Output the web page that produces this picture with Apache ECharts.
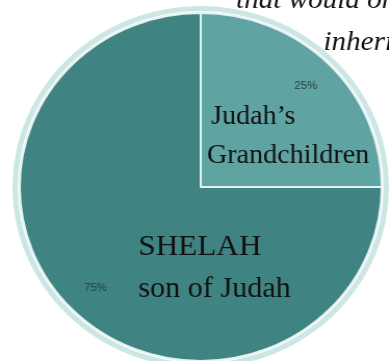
<!DOCTYPE html>
<html>
<head>
<meta charset="utf-8">
<style>
html,body{margin:0;padding:0;background:#fff;overflow:hidden;width:389px;height:361px;}
#c{width:374px;height:361px;transform:scaleX(1.04);transform-origin:0 0;}
</style>
<script src="https://cdn.jsdelivr.net/npm/echarts@6/dist/echarts.min.js"></script>
</head>
<body>
<div id="c"></div>
<script>
const categories = ["Judah's Grandchildren", "SHELAH son of Judah"];
const values = [25, 75];
const sliceColors = ['#5fa4a3', '#3f8482'];

const chart = echarts.init(document.getElementById('c'), null, {renderer: 'canvas'});
const center = [193, 187];
const R = 174;
const serif = '"Liberation Serif", "DejaVu Serif", serif';

const data = categories.map((n, i) => ({name: n, value: values[i], itemStyle: {color: sliceColors[i]}}));

chart.setOption({
  animation: false,
  backgroundColor: '#ffffff',
  series: [
    {
      type: 'pie', silent: true, center: center, radius: [R + 2, R + 7],
      startAngle: 90, label: {show: false}, labelLine: {show: false},
      data: [{value: 1, itemStyle: {color: '#cce6e4'}}]
    },
    {
      type: 'pie', silent: true, center: center, radius: [0, R],
      startAngle: 90, clockwise: true,
      itemStyle: {borderColor: '#e4f2f1', borderWidth: 2},
      label: {show: false}, labelLine: {show: false},
      data: data
    },
    {
      type: 'pie', silent: true, center: center, radius: [106, R],
      startAngle: 90, clockwise: true,
      itemStyle: {color: 'rgba(0,0,0,0)', borderWidth: 0},
      label: {show: true, position: 'inside', formatter: '{d}%', color: '#23403f',
              fontFamily: 'Arial, "Liberation Sans", sans-serif', fontSize: 11},
      labelLine: {show: false},
      data: categories.map((n, i) => ({name: n, value: values[i]}))
    }
  ],
  graphic: [
    {type: 'text', z: 100, left: 227, top: -13, style: {text: 'that would only', font: 'italic 28px ' + serif, fill: '#111'}},
    {type: 'text', z: 100, left: 311, top: 29, style: {text: 'inherit', font: 'italic 28px ' + serif, fill: '#111'}},
    {type: 'text', z: 100, left: 203, top: 103, style: {text: 'Judah\u2019s', font: '27px ' + serif, fill: '#111'}},
    {type: 'text', z: 100, left: 199, top: 142, style: {text: 'Grandchildren', font: '27px ' + serif, fill: '#111'}},
    {type: 'text', z: 100, left: 133, top: 232, style: {text: 'SHELAH', font: '30px ' + serif, fill: '#111'}},
    {type: 'text', z: 100, left: 133, top: 275, style: {text: 'son of Judah', font: '29px ' + serif, fill: '#111'}}
  ]
});
</script>
</body>
</html>
